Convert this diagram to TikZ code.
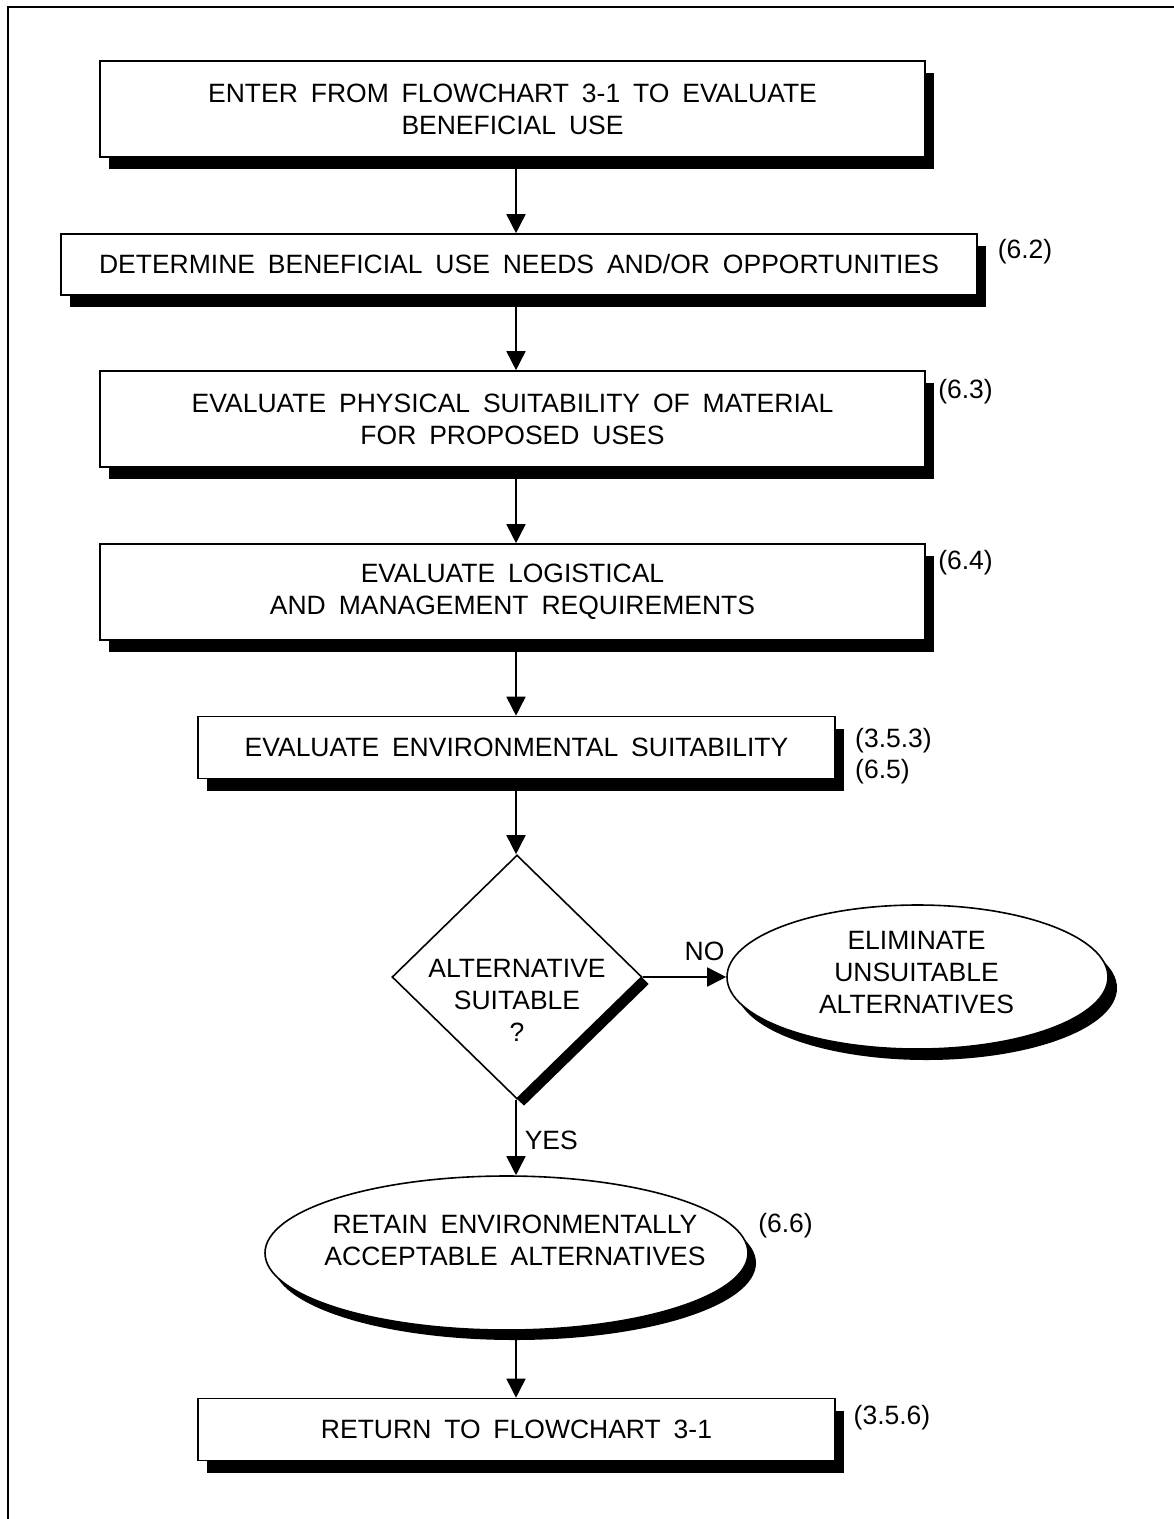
\documentclass[tikz,border=0pt]{standalone}
\usepackage{fontspec}
\setmainfont{Liberation Sans}[WordSpace=1.75]
\usetikzlibrary{shapes.geometric,shadows,arrows.meta}
\tikzset{
  lbl/.style={font=\fontsize{26.5}{32}\selectfont, inner sep=0pt, align=center},
  refl/.style={font=\fontsize{26.5}{31}\selectfont, inner sep=0pt, align=left},
  boxnode/.style={lbl, draw, line width=1.6pt, fill=white,
    drop shadow={shadow xshift=9pt, shadow yshift=-12pt, opacity=1, fill=black}},
  ellnode/.style={ellipse, draw, line width=1.6pt, fill=white, inner sep=0pt},
  decnode/.style={diamond, draw, line width=1.6pt, fill=white, inner sep=0pt},
  arr/.style={line width=1.6pt, -{Triangle[length=19pt, width=19pt]}},
}
\begin{document}
\begin{tikzpicture}[x=1pt, y=-1pt]
\useasboundingbox (0,0) rectangle (1174,1519);
\fill[white] (0,0) rectangle (1174,1519);
% frame
\draw[line width=2.5pt] (8,1519) -- (8,7) -- (1174,7);

\coordinate (ax) at (516,0);

% boxes
\node[boxnode, minimum width=825pt, minimum height=96pt] (enter) at (512.5,109)
  {ENTER FROM FLOWCHART 3-1 TO EVALUATE\\BENEFICIAL USE};
\node[boxnode, minimum width=916pt, minimum height=61pt] (determine) at (519,264.5)
  {DETERMINE BENEFICIAL USE NEEDS AND/OR OPPORTUNITIES};
\node[boxnode, minimum width=825pt, minimum height=96pt] (physical) at (512.5,419)
  {EVALUATE PHYSICAL SUITABILITY OF MATERIAL\\FOR PROPOSED USES};
\node[boxnode, minimum width=825pt, minimum height=96pt] (logist) at (512.5,592)
  {EVALUATE LOGISTICAL\\AND MANAGEMENT REQUIREMENTS};
\node[boxnode, minimum width=637pt, minimum height=62pt] (envsuit) at (516.5,747.5)
  {EVALUATE ENVIRONMENTAL SUITABILITY};

% decision
\node[decnode, minimum width=250pt, minimum height=244pt,
  drop shadow={shadow xshift=7pt, shadow yshift=-7pt, opacity=1, fill=black}] (dec) at (517,977) {};
\node[lbl] (dectext) at (517,1000) {ALTERNATIVE\\SUITABLE\\?};

% eliminate
\node[ellnode, minimum width=381pt, minimum height=144pt,
  drop shadow={shadow xshift=9pt, shadow yshift=-11pt, opacity=1, fill=black}] (elim) at (917.5,977) {};
\node[lbl] (elimtext) at (916.5,972) {ELIMINATE\\UNSUITABLE\\ALTERNATIVES};

% retain
\node[ellnode, minimum width=483pt, minimum height=154pt,
  drop shadow={shadow xshift=8pt, shadow yshift=-10pt, opacity=1, fill=black}] (retain) at (506.5,1253) {};
\node[lbl] (retaintext) at (515,1240) {RETAIN ENVIRONMENTALLY\\ACCEPTABLE ALTERNATIVES};

% return
\node[boxnode, minimum width=637pt, minimum height=62pt] (return) at (516.5,1429.5)
  {RETURN TO FLOWCHART 3-1};

% references
\node[refl] (r62) at (1025,252) {(6.2)};
\node[refl] (r63) at (965.5,392) {(6.3)};
\node[refl] (r64) at (965.5,563) {(6.4)};
\node[refl, anchor=west] (r653) at (855,756) {(3.5.3)\\(6.5)};
\node[refl] (r66) at (785.5,1226) {(6.6)};
\node[refl] (r356) at (892,1418) {(3.5.6)};

% connectors
\draw[arr] (enter.south -| ax) -- (determine.north -| ax);
\draw[arr] (determine.south -| ax) -- (physical.north -| ax);
\draw[arr] (physical.south -| ax) -- (logist.north -| ax);
\draw[arr] (logist.south -| ax) -- (envsuit.north -| ax);
\draw[arr] (envsuit.south -| ax) -- (dec.north -| ax);
\draw[arr] (dec.east) -- node[lbl, above=15pt, xshift=20pt] (no) {NO} (elim.west);
\draw[arr] (dec.south -| ax) -- node[lbl, right=8pt, yshift=-3pt] (yes) {YES} (retain.north -| ax);
\draw[arr] (retain.south -| ax) -- (return.north -| ax);
\end{tikzpicture}
\end{document}
